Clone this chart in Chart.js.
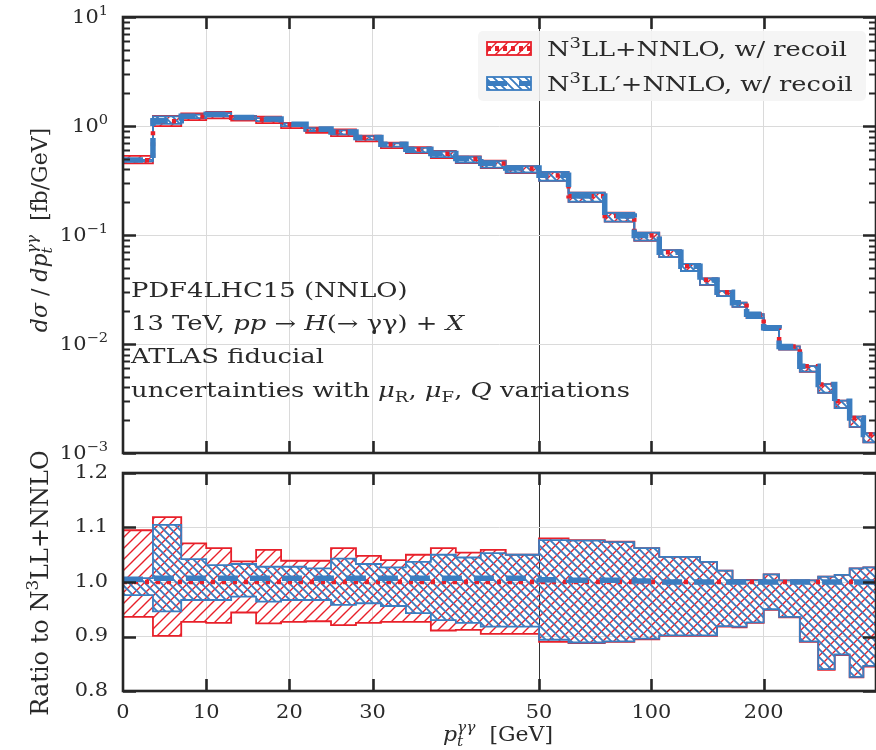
<!DOCTYPE html>
<html>
<head>
<meta charset="utf-8">
<script src="https://cdn.jsdelivr.net/npm/chart.js@4.4.1/dist/chart.umd.min.js"></script>
<style>
  html, body { margin: 0; padding: 0; background: #fff; overflow: hidden; }
  #wrap { position: relative; width: 876px; height: 750px; }
  canvas { position: absolute; left: 0; }
</style>
</head>
<body>
<div id="wrap">
  <canvas id="top" width="876" height="462" style="top:0"></canvas>
  <canvas id="bot" width="876" height="320" style="top:430px"></canvas>
</div>
<script>
// bin edges in pt [GeV]
var EDGES = [0, 3.6, 7, 10, 13, 16, 19, 22, 25, 28, 31, 34, 37, 40, 43, 46, 50,
             60, 75, 90, 105, 120, 135, 150, 165, 180, 200, 220, 250, 280, 310, 340, 370, 400];
var X_TICKS = [0, 10, 20, 30, 50, 100, 200];
var Y_TICKS_TOP = [1e-3, 1e-2, 1e-1, 1, 10];
var Y_TICKS_RATIO = [0.8, 0.9, 1.0, 1.1, 1.2];

// dsigma/dpt, N3LL+NNLO w/ recoil  [fb/GeV]
var XS_RED = [0.485, 1.107, 1.22, 1.27, 1.19, 1.15, 1.03, 0.93, 0.875, 0.78, 0.676,
              0.608, 0.556, 0.50, 0.453, 0.408, 0.352, 0.227, 0.149, 0.099, 0.0695,
              0.0518, 0.0386, 0.0299, 0.0239, 0.0187, 0.0141, 0.0095, 0.00625,
              0.00425, 0.00298, 0.0021, 0.00148];

// ratios to N3LL+NNLO
var R_RED_C  = [1, 1, 1, 1, 1, 1, 1, 1, 1, 1, 1, 1, 1, 1, 1, 1, 1,
                1, 1, 1, 1, 1, 1, 1, 1, 1, 1, 1, 1, 1, 1, 1, 1];
var R_RED_UP = [1.095, 1.119, 1.071, 1.062, 1.038, 1.059, 1.039, 1.039, 1.062, 1.048, 1.040,
                1.050, 1.062, 1.054, 1.059, 1.050, 1.080, 1.077, 1.074, 1.062, 1.046,
                1.046, 1.037, 1.021, 1.004, 1.004, 1.014, 1.003, 1.003, 1.010, 1.013,
                1.025, 1.027];
var R_RED_LO = [0.936, 0.901, 0.927, 0.925, 0.944, 0.924, 0.927, 0.928, 0.921, 0.925, 0.927,
                0.927, 0.911, 0.912, 0.905, 0.905, 0.890, 0.888, 0.890, 0.895, 0.901,
                0.901, 0.901, 0.918, 0.917, 0.925, 0.949, 0.935, 0.890, 0.839, 0.866,
                0.825, 0.845];
var R_BLUE_C  = [1.005, 1.007, 1.007, 1.007, 1.007, 1.007, 1.007, 1.007, 1.007, 1.007, 1.007,
                 1.007, 1.007, 1.007, 1.007, 1.007, 1.004, 1.003, 1.003, 1.002, 1.0,
                 1.0, 1.0, 1.0, 1.0, 1.0, 1.0, 1.0, 1.0, 1.0, 1.0, 1.0, 1.0];
var R_BLUE_UP = [1.007, 1.105, 1.042, 1.031, 1.033, 1.028, 1.028, 1.025, 1.043, 1.033, 1.027,
                 1.037, 1.050, 1.045, 1.053, 1.050, 1.077, 1.076, 1.073, 1.062, 1.046,
                 1.046, 1.037, 1.021, 1.003, 1.003, 1.014, 1.003, 1.003, 1.010, 1.013,
                 1.025, 1.027];
var R_BLUE_LO = [0.976, 0.946, 0.967, 0.967, 0.973, 0.964, 0.967, 0.967, 0.958, 0.961, 0.956,
                 0.943, 0.930, 0.925, 0.918, 0.918, 0.894, 0.889, 0.891, 0.896, 0.902,
                 0.902, 0.902, 0.919, 0.918, 0.926, 0.950, 0.936, 0.891, 0.840, 0.867,
                 0.826, 0.846];

var RED = '#e8202a';
var BLUE = '#3b7dc0';
var TEXT = '#2a2a2a';
var GRID = '#dadada';
var FONT = '"DejaVu Serif", "Liberation Serif", serif';
var BOT_TOP = 430;   // page y of the ratio canvas

// pt axis: linear up to 50 GeV, logarithmic above
function tr(v) { return v <= 50 ? v : 50 + 13.5 * Math.log2(v / 50); }
function itr(u) { return u <= 50 ? u : 50 * Math.pow(2, (u - 50) / 13.5); }

class PtScale extends Chart.LinearScale {
  static id = 'ptscale';
  static defaults = {};
  buildTicks() { return X_TICKS.map(function (v) { return { value: v }; }); }
  configure() {
    super.configure();
    this._u0 = tr(this.min);
    this._u1 = tr(this.max);
  }
  getPixelForValue(v) {
    return this.getPixelForDecimal((tr(v) - this._u0) / (this._u1 - this._u0));
  }
  getValueForPixel(p) {
    return itr(this._u0 + this.getDecimalForPixel(p) * (this._u1 - this._u0));
  }
}
Chart.register(PtScale);

function hatch(color, size, lw, cross) {
  var c = document.createElement('canvas');
  c.width = c.height = size;
  var g = c.getContext('2d');
  g.strokeStyle = color;
  g.lineWidth = lw;
  g.beginPath();
  if (!cross) {
    g.moveTo(-1, size + 1); g.lineTo(size + 1, -1);
    g.moveTo(-2, 2); g.lineTo(2, -2);
    g.moveTo(size - 2, size + 2); g.lineTo(size + 2, size - 2);
  } else {
    g.moveTo(-1, -1); g.lineTo(size + 1, size + 1);
    g.moveTo(size - 2, -2); g.lineTo(size + 2, 2);
    g.moveTo(-2, size - 2); g.lineTo(2, size + 2);
  }
  g.stroke();
  return g.createPattern(c, 'repeat');
}
var ctxTop = document.getElementById('top').getContext('2d');
var RED_HATCH = hatch(RED, 11, 1.4, false);
var BLUE_HATCH = hatch(BLUE, 8, 1.9, true);

function steps(vals) {
  var pts = vals.map(function (v, i) { return { x: EDGES[i], y: v }; });
  pts.push({ x: EDGES[EDGES.length - 1], y: vals[vals.length - 1] });
  return pts;
}
function mul(a, b) { return a.map(function (v, i) { return v * b[i]; }); }

function bandSets(c, rUp, rLo, rBlue, rRed) {
  return [
    { data: steps(mul(c, rUp.red)), fill: '+1', backgroundColor: RED_HATCH, borderColor: RED, borderWidth: 1.8, order: 6 },
    { data: steps(mul(c, rLo.red)), fill: false, borderColor: RED, borderWidth: 1.8, order: 6 },
    { data: steps(mul(c, rUp.blue)), fill: '+1', backgroundColor: BLUE_HATCH, borderColor: BLUE, borderWidth: 1.8, order: 5 },
    { data: steps(mul(c, rLo.blue)), fill: false, borderColor: BLUE, borderWidth: 1.8, order: 5 },
    { data: steps(mul(c, rRed)), fill: false, borderColor: RED, borderWidth: 4.5, borderDash: [4, 7], order: 3 },
    { data: steps(mul(c, rBlue)), fill: false, borderColor: BLUE, borderWidth: 5.5, borderDash: [20, 12], order: 2 }
  ];
}

// ---------- rich text helpers ----------
function fontFor(seg, size) {
  var s = (seg.sub || seg.sup) ? size * 0.7 : size;
  return (seg.it ? 'italic ' : '') + s.toFixed(1) + 'px ' + FONT;
}
function segW(ctx, seg, size) {
  ctx.font = fontFor(seg, size);
  var w = ctx.measureText(seg.t).width;
  if (seg.over) {
    ctx.font = fontFor({ sup: true, it: seg.overIt }, size);
    w = Math.max(w, ctx.measureText(seg.over).width);
  }
  return w;
}
function richW(ctx, segs, size) {
  var w = 0;
  segs.forEach(function (s) { w += segW(ctx, s, size); });
  return w;
}
function drawRich(ctx, segs, x, y, size, o) {
  o = o || {};
  var sx = o.sx || 1, align = o.align || 'left';
  var w = richW(ctx, segs, size);
  ctx.save();
  ctx.translate(x, y);
  if (o.rot) ctx.rotate(o.rot);
  ctx.scale(sx, 1);
  ctx.fillStyle = o.color || TEXT;
  ctx.textBaseline = o.baseline || 'alphabetic';
  ctx.textAlign = 'left';
  var cx = align === 'center' ? -w / 2 : (align === 'right' ? -w : 0);
  segs.forEach(function (s) {
    var sw = segW(ctx, s, size);
    ctx.font = fontFor(s, size);
    var dy = s.sup ? -0.42 * size : (s.sub ? 0.24 * size : 0);
    ctx.fillText(s.t, cx, dy);
    if (s.over) {
      ctx.font = fontFor({ sup: true, it: s.overIt }, size);
      ctx.fillText(s.over, cx, -0.45 * size);
    }
    cx += sw;
  });
  ctx.restore();
}

var TICK_SIZE = 19, TICK_SX = 1.1;
var SUP = { '0': '0', '1': '1', '-1': '−1', '-2': '−2', '-3': '−3' };

// frame, inward ticks and tick labels
function framePlugin(isTop) {
  return {
    id: 'frame' + (isTop ? 'T' : 'B'),
    afterDraw: function (chart) {
      var ctx = chart.ctx, a = chart.chartArea;
      var xs = chart.scales.x, ys = chart.scales.y;
      ctx.save();
      ctx.strokeStyle = '#262626';
      ctx.lineCap = 'butt';
      // x ticks top and bottom
      ctx.lineWidth = 2.6;
      X_TICKS.forEach(function (v) {
        var px = Math.round(xs.getPixelForValue(v)) + 0.5;
        if (v === 0) return;
        ctx.beginPath();
        ctx.moveTo(px, a.top); ctx.lineTo(px, a.top + 12);
        ctx.moveTo(px, a.bottom); ctx.lineTo(px, a.bottom - 12);
        ctx.stroke();
      });
      var yt = isTop ? Y_TICKS_TOP : Y_TICKS_RATIO;
      yt.forEach(function (v) {
        var py = Math.round(ys.getPixelForValue(v)) + 0.5;
        ctx.beginPath();
        ctx.moveTo(a.left, py); ctx.lineTo(a.left + 13, py);
        ctx.moveTo(a.right, py); ctx.lineTo(a.right - 13, py);
        ctx.stroke();
      });
      if (isTop) {
        ctx.lineWidth = 1.8;
        for (var d = -3; d < 1; d++) {
          for (var m = 2; m < 10; m++) {
            var py = Math.round(ys.getPixelForValue(m * Math.pow(10, d))) + 0.5;
            ctx.beginPath();
            ctx.moveTo(a.left, py); ctx.lineTo(a.left + 7, py);
            ctx.moveTo(a.right, py); ctx.lineTo(a.right - 7, py);
            ctx.stroke();
          }
        }
      }
      // frame
      ctx.lineWidth = 2.6;
      ctx.strokeRect(a.left, a.top, a.right - a.left, a.bottom - a.top);
      ctx.restore();

      // y tick labels
      yt.forEach(function (v) {
        var py = ys.getPixelForValue(v);
        if (isTop) {
          var e = String(Math.round(Math.log10(v)));
          drawRich(ctx, [{ t: '10' }, { t: SUP[e], sup: true }], 108, py + 6, TICK_SIZE,
                   { align: 'right', sx: TICK_SX });
        } else {
          drawRich(ctx, [{ t: v.toFixed(1) }], 108, py, TICK_SIZE,
                   { align: 'right', sx: TICK_SX, baseline: 'middle' });
        }
      });
      if (!isTop) {
        X_TICKS.forEach(function (v) {
          drawRich(ctx, [{ t: String(v) }], xs.getPixelForValue(v), 713 - BOT_TOP, TICK_SIZE,
                   { align: 'center', sx: TICK_SX, baseline: 'middle' });
        });
        drawRich(ctx, [{ t: 'p', it: true }, { t: 't', sub: true, it: true, over: 'γγ', overIt: true }, { t: '  [GeV]' }],
                 498, 741 - BOT_TOP, 20, { align: 'center', sx: 1.1 });
        drawRich(ctx, [{ t: 'Ratio to N' }, { t: '3', sup: true }, { t: 'LL+NNLO' }],
                 48, 583 - BOT_TOP, 24, { align: 'center', rot: -Math.PI / 2 });
      }
    }
  };
}

var ANNOT = [
  [{ t: 'PDF4LHC15 (NNLO)' }],
  [{ t: '13 TeV, ' }, { t: 'pp', it: true }, { t: ' → ' }, { t: 'H', it: true }, { t: '(→ γγ) + ' }, { t: 'X', it: true }],
  [{ t: 'ATLAS fiducial' }],
  [{ t: 'uncertainties with ' }, { t: 'μ', it: true }, { t: 'R', sub: true }, { t: ', ' },
   { t: 'μ', it: true }, { t: 'F', sub: true }, { t: ', ' }, { t: 'Q', it: true }, { t: ' variations' }]
];
var ANNOT_Y = [297, 330, 363, 397];
var LEGEND = [
  { segs: [{ t: 'N' }, { t: '3', sup: true }, { t: 'LL+NNLO, w/ recoil' }], color: RED, fill: RED_HATCH, dash: [4, 4], lw: 5 },
  { segs: [{ t: 'N' }, { t: '3', sup: true }, { t: 'LL′+NNLO, w/ recoil' }], color: BLUE, fill: BLUE_HATCH, dash: [20, 12], lw: 5 }
];

var topText = {
  id: 'topText',
  afterDraw: function (chart) {
    var ctx = chart.ctx;
    var size = 20;
    var sx = (630 - 131) / richW(ctx, ANNOT[3], size);
    ANNOT.forEach(function (segs, i) { drawRich(ctx, segs, 131, ANNOT_Y[i], size, { sx: sx }); });

    // legend box
    ctx.save();
    ctx.fillStyle = 'rgba(244,244,244,0.88)';
    ctx.beginPath();
    ctx.roundRect(478, 31, 388, 70, 5);
    ctx.fill();
    ctx.restore();
    var lsx = 300 / richW(ctx, LEGEND[0].segs, size);
    LEGEND.forEach(function (it, i) {
      var y0 = 42 + i * 35;
      ctx.save();
      ctx.fillStyle = '#fff';
      ctx.fillRect(487, y0, 44, 13);
      ctx.fillStyle = it.fill;
      ctx.fillRect(487, y0, 44, 13);
      ctx.strokeStyle = it.color;
      ctx.lineWidth = 1.8;
      ctx.strokeRect(487, y0, 44, 13);
      ctx.setLineDash(it.dash);
      ctx.lineWidth = it.lw;
      ctx.beginPath();
      ctx.moveTo(487, y0 + 6.5); ctx.lineTo(531, y0 + 6.5);
      ctx.stroke();
      ctx.restore();
      drawRich(ctx, it.segs, 547, y0 + 14, size, { sx: lsx });
    });

    drawRich(ctx, [{ t: 'dσ', it: true }, { t: ' / ' }, { t: 'dp', it: true },
                   { t: 't', sub: true, it: true, over: 'γγ', overIt: true }, { t: '  [fb/GeV]' }],
             47, 230, 22, { align: 'center', rot: -Math.PI / 2 });
  }
};

function gridX(c) {
  var v = c.tick ? c.tick.value : null;
  if (v === 50) return '#333';
  if (v === 0) return 'rgba(0,0,0,0)';
  return GRID;
}

var common = {
  responsive: false,
  animation: false,
  devicePixelRatio: 1,
  plugins: { legend: { display: false }, tooltip: { enabled: false } },
  elements: { point: { radius: 0 }, line: { tension: 0, stepped: true, borderCapStyle: 'butt' } }
};

new Chart(ctxTop, {
  type: 'line',
  data: { datasets: bandSets(XS_RED, { red: R_RED_UP, blue: R_BLUE_UP }, { red: R_RED_LO, blue: R_BLUE_LO }, R_BLUE_C, R_RED_C) },
  options: Object.assign({}, common, {
    layout: { padding: { top: 17, left: 0, right: 0, bottom: 0 } },
    scales: {
      x: {
        type: 'ptscale', min: 0, max: 400,
        ticks: { display: false }, border: { display: false },
        grid: { drawTicks: false, color: gridX, lineWidth: 1 },
        afterFit: function (s) { s.height = 9; }
      },
      y: {
        type: 'logarithmic', min: 1e-3, max: 10,
        ticks: { display: false }, border: { display: false },
        grid: { drawTicks: false, color: GRID, lineWidth: 1 },
        afterBuildTicks: function (s) { s.ticks = Y_TICKS_TOP.map(function (v) { return { value: v, major: true }; }); },
        afterFit: function (s) { s.width = 123; }
      }
    }
  }),
  plugins: [framePlugin(true), topText]
});

var ONES = R_RED_C;
new Chart(document.getElementById('bot').getContext('2d'), {
  type: 'line',
  data: { datasets: bandSets(ONES, { red: R_RED_UP, blue: R_BLUE_UP }, { red: R_RED_LO, blue: R_BLUE_LO }, R_BLUE_C, R_RED_C) },
  options: Object.assign({}, common, {
    layout: { padding: { top: 473 - BOT_TOP, left: 0, right: 0, bottom: 0 } },
    scales: {
      x: {
        type: 'ptscale', min: 0, max: 400,
        ticks: { display: false }, border: { display: false },
        grid: { drawTicks: false, color: gridX, lineWidth: 1 },
        afterFit: function (s) { s.height = 750 - 691; }
      },
      y: {
        type: 'linear', min: 0.8, max: 1.2,
        ticks: { display: false }, border: { display: false },
        grid: { drawTicks: false, color: GRID, lineWidth: 1 },
        afterBuildTicks: function (s) { s.ticks = Y_TICKS_RATIO.map(function (v) { return { value: v }; }); },
        afterFit: function (s) { s.width = 123; }
      }
    }
  }),
  plugins: [framePlugin(false)]
});
</script>
</body>
</html>
